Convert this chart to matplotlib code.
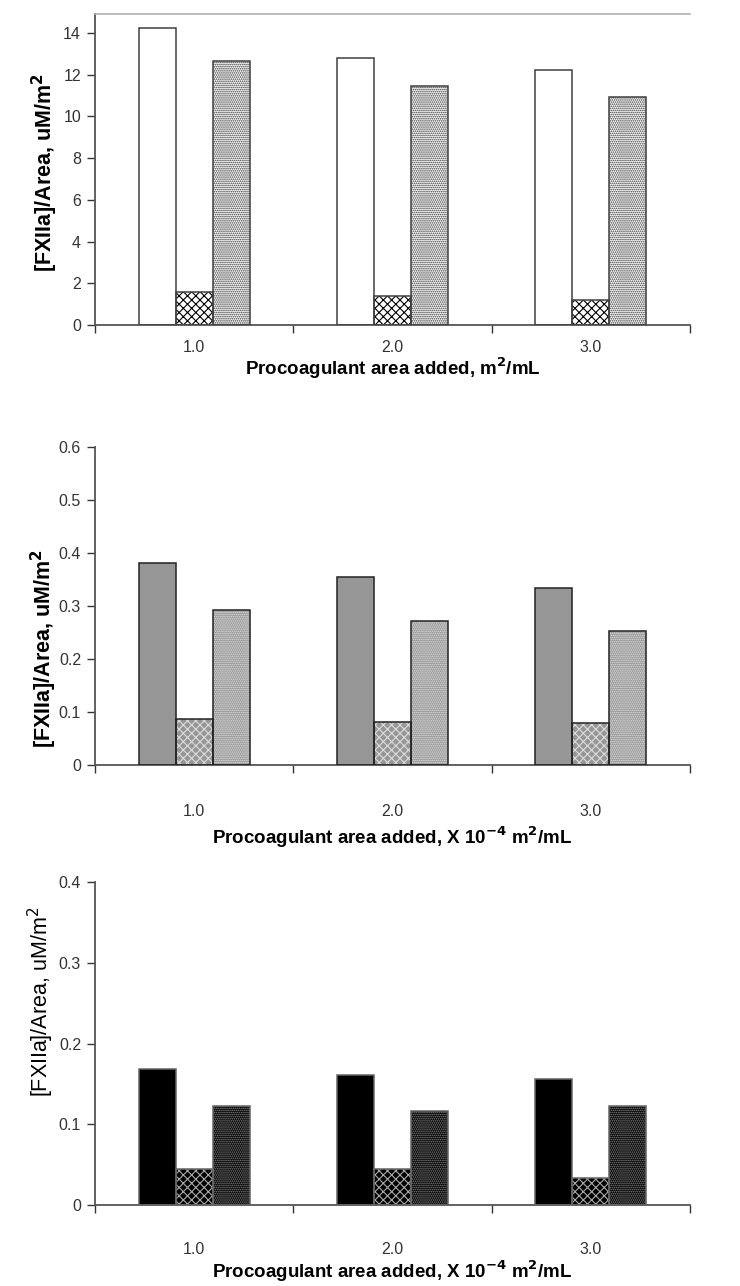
import matplotlib
matplotlib.use("Agg")
import matplotlib.pyplot as plt
import numpy as np

plt.rcParams['font.family'] = ['Liberation Sans', 'DejaVu Sans']
plt.rcParams['hatch.linewidth'] = 0.8

categories = ["1.0", "2.0", "3.0"]

# Panel 1 (m^2/mL)
p1_series1 = [14.25, 12.8, 12.2]
p1_series2 = [1.6, 1.4, 1.2]
p1_series3 = [12.65, 11.45, 10.9]
p1_yticks = [0, 2, 4, 6, 8, 10, 12, 14]
p1_ylabels = ["0", "2", "4", "6", "8", "10", "12", "14"]

# Panel 2 (X 10^-4 m^2/mL)
p2_series1 = [0.381, 0.355, 0.334]
p2_series2 = [0.087, 0.082, 0.080]
p2_series3 = [0.293, 0.271, 0.253]
p2_yticks = [0, 0.1, 0.2, 0.3, 0.4, 0.5, 0.6]
p2_ylabels = ["0", "0.1", "0.2", "0.3", "0.4", "0.5", "0.6"]

# Panel 3 (X 10^-4 m^2/mL)
p3_series1 = [0.168, 0.161, 0.156]
p3_series2 = [0.044, 0.044, 0.033]
p3_series3 = [0.123, 0.116, 0.123]
p3_yticks = [0, 0.1, 0.2, 0.3, 0.4]
p3_ylabels = ["0", "0.1", "0.2", "0.3", "0.4"]

W, H = 740, 1286
fig = plt.figure(figsize=(W / 100, H / 100), dpi=100)


def add_ax(left, top, right, bottom):
    return fig.add_axes([left / W, 1 - bottom / H, (right - left) / W, (bottom - top) / H])


def panel(ax, s1, s2, s3, ymax, yticks, ylabels, styles, xlabel, ylabel, ylabel_bold,
          top_line, tick_pad, xlabel_pad, ylabel_pos):
    x = np.arange(len(categories)) + 0.5
    bw = 0.187
    series = [s1, s2, s3]
    for j, (vals, st) in enumerate(zip(series, styles)):
        pos = x + (j - 1) * bw
        ax.bar(pos, vals, width=bw, color=st['face'], edgecolor=st.get('hcol', 'none'),
               hatch=st.get('hatch'), linewidth=0, zorder=2)
        ax.bar(pos, vals, width=bw, fill=False, edgecolor=st['edge'], linewidth=1.1, zorder=3)
    ax.set_xlim(0, 3)
    ax.set_ylim(0, ymax)
    ax.set_yticks(yticks)
    ax.set_yticklabels(ylabels)
    ax.set_xticks([0, 1, 2, 3])
    ax.set_xticklabels([])
    ax.set_xticks(x, minor=True)
    ax.set_xticklabels(categories, minor=True)
    ax.tick_params(axis='x', which='minor', length=0, pad=tick_pad, labelsize=11.5, labelcolor='#333333')
    ax.tick_params(axis='x', which='major', length=6, width=1, color='#333333', direction='out')
    ax.tick_params(axis='y', length=6, width=1, color='#333333', direction='out', pad=4,
                   labelsize=11.5, labelcolor='#333333')
    for sp in ['left', 'bottom']:
        ax.spines[sp].set_color('#555555')
        ax.spines[sp].set_linewidth(1.3)
    ax.spines['right'].set_visible(False)
    if top_line:
        ax.spines['top'].set_color('#b0b0b0')
        ax.spines['top'].set_linewidth(1.2)
    else:
        ax.spines['top'].set_visible(False)
    ax.set_xlabel(xlabel, fontsize=13.5, fontweight='bold', labelpad=xlabel_pad)
    ax.set_ylabel(ylabel, fontsize=15.5, fontweight='bold' if ylabel_bold else 'normal')
    ax.yaxis.set_label_coords(*ylabel_pos)


ylab_bold = "[FXIIa]/Area, uM/m$^\\mathbf{2}$"
ylab_norm = "[FXIIa]/Area, uM/m$^2$"

ax1 = add_ax(95, 14, 690, 325)
panel(ax1, p1_series1, p1_series2, p1_series3, 14.9, p1_yticks, p1_ylabels,
      [dict(face='white', edge='#404040'),
       dict(face='white', hcol='black', hatch='xxxx', edge='#404040'),
       dict(face='white', hcol='#333333', hatch='........', edge='#404040')],
      'Procoagulant area added, m$^\\mathbf{2}$/mL', ylab_bold, True, True,
      11, 0, (-0.058, 0.49))

ax2 = add_ax(95, 447, 690, 765)
panel(ax2, p2_series1, p2_series2, p2_series3, 0.6, p2_yticks, p2_ylabels,
      [dict(face='#969696', edge='#222222'),
       dict(face='#969696', hcol='#dddddd', hatch='xxxx', edge='#222222'),
       dict(face='#969696', hcol='#e0e0e0', hatch='........', edge='#222222')],
      'Procoagulant area added, X 10$^{\\mathbf{-4}}$ m$^\\mathbf{2}$/mL', ylab_bold, True, False,
      28, 4, (-0.06, 0.365))

ax3 = add_ax(95, 882, 690, 1205)
panel(ax3, p3_series1, p3_series2, p3_series3, 0.4, p3_yticks, p3_ylabels,
      [dict(face='black', edge='#666666'),
       dict(face='black', hcol='#aaaaaa', hatch='xxxx', edge='#666666'),
       dict(face='black', hcol='#888888', hatch='........', edge='#666666')],
      'Procoagulant area added, X 10$^{\\mathbf{-4}}$ m$^\\mathbf{2}$/mL', ylab_norm, False, False,
      27, 1, (-0.065, 0.63))

fig.savefig('out.png', dpi=100)
